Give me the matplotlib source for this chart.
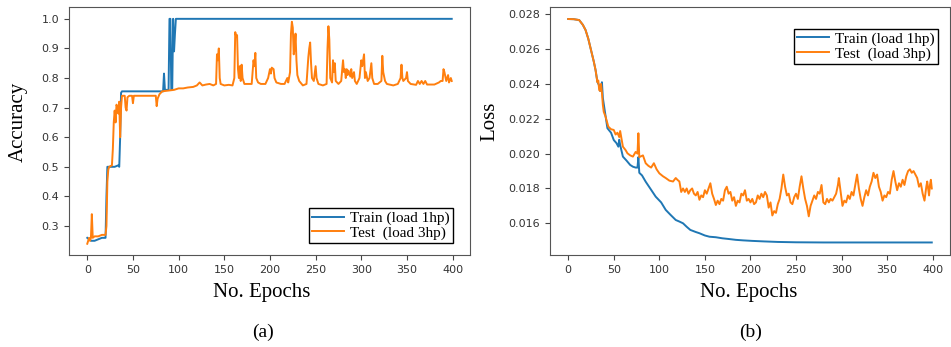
import matplotlib.pyplot as plt

# Accuracy, train (load 1hp)
acc_train_ep = [0, 2, 4, 8, 12, 16, 20, 21, 22, 30, 34, 35, 36, 37, 38, 60, 83, 84, 85,
                89, 90, 91, 92, 93, 94, 95, 96, 97, 399]
acc_train = [0.26, 0.255, 0.25, 0.25, 0.255, 0.26, 0.26, 0.40, 0.50, 0.50, 0.505, 0.50, 0.60,
             0.75, 0.755, 0.755, 0.755, 0.815, 0.76, 0.76, 1.0, 1.0, 0.76, 0.76, 1.0, 0.89,
             0.95, 1.0, 1.0]

# Accuracy, test (load 3hp)
acc_test_ep = [0, 1, 2, 3, 4, 5, 6, 8, 12, 16, 20, 21, 22, 23, 24, 27, 28, 29, 30, 31, 32, 33,
               34, 35, 36, 37, 38, 41, 42, 43, 44, 46, 49, 50, 51, 60, 70, 75, 76, 77, 79, 82,
               90, 95, 100, 105, 110, 116, 120, 123, 126, 130, 134, 138, 141, 142, 143, 144,
               145, 146, 150, 155, 159, 161, 162, 163, 164, 165, 166, 167, 168, 169, 170, 172,
               176, 180, 182, 183, 184, 185, 187, 190, 195, 198, 200, 201, 202, 204, 205, 207,
               212, 216, 219, 220, 222, 223, 224, 225, 226, 227, 228, 229, 230, 232, 236, 240,
               242, 243, 244, 245, 246, 248, 250, 251, 253, 258, 262, 263, 264, 265, 266, 268,
               269, 270, 271, 272, 275, 278, 280, 281, 282, 283, 284, 285, 286, 288, 289, 290,
               292, 293, 295, 298, 300, 301, 303, 304, 305, 307, 309, 311, 312, 314, 318, 322,
               323, 324, 326, 328, 335, 340, 343, 344, 345, 346, 349, 350, 351, 354, 360, 362,
               364, 366, 368, 370, 372, 380, 385, 387, 389, 390, 391, 393, 394, 395, 396, 398,
               399]
acc_test = [0.24, 0.25, 0.26, 0.25, 0.26, 0.34, 0.26, 0.265, 0.265, 0.27, 0.27, 0.30, 0.45,
            0.49, 0.50, 0.505, 0.56, 0.65, 0.69, 0.65, 0.71, 0.70, 0.68, 0.72, 0.60, 0.70,
            0.74, 0.74, 0.70, 0.69, 0.735, 0.74, 0.74, 0.715, 0.74, 0.74, 0.74, 0.74, 0.705,
            0.73, 0.745, 0.755, 0.758, 0.76, 0.765, 0.765, 0.768, 0.77, 0.775, 0.785, 0.775,
            0.778, 0.78, 0.775, 0.78, 0.88, 0.86, 0.90, 0.80, 0.78, 0.775, 0.777, 0.775, 0.80,
            0.955, 0.94, 0.945, 0.83, 0.80, 0.84, 0.79, 0.845, 0.80, 0.78, 0.78, 0.78, 0.86,
            0.84, 0.885, 0.80, 0.785, 0.78, 0.78, 0.80, 0.83, 0.815, 0.835, 0.83, 0.80, 0.785,
            0.78, 0.78, 0.80, 0.785, 0.82, 0.95, 0.99, 0.97, 0.88, 0.90, 0.95, 0.86, 0.81,
            0.79, 0.775, 0.78, 0.87, 0.90, 0.92, 0.85, 0.80, 0.79, 0.84, 0.80, 0.78, 0.775,
            0.78, 0.90, 0.975, 0.93, 0.80, 0.785, 0.86, 0.82, 0.85, 0.79, 0.78, 0.79, 0.86,
            0.82, 0.83, 0.80, 0.83, 0.81, 0.825, 0.805, 0.83, 0.80, 0.82, 0.79, 0.78, 0.80,
            0.86, 0.84, 0.88, 0.80, 0.82, 0.79, 0.80, 0.85, 0.80, 0.78, 0.78, 0.79, 0.875,
            0.82, 0.79, 0.78, 0.775, 0.78, 0.80, 0.845, 0.80, 0.79, 0.80, 0.82, 0.79, 0.78,
            0.777, 0.79, 0.78, 0.79, 0.78, 0.79, 0.778, 0.778, 0.785, 0.79, 0.79, 0.83, 0.82,
            0.79, 0.80, 0.81, 0.785, 0.80, 0.79]

# Loss, train (load 1hp)
loss_train_ep = [0, 6, 12, 16, 19, 22, 25, 28, 30, 32, 34, 35, 36, 37, 38, 40, 43, 47, 50,
                 53, 55, 56, 57, 60, 64, 68, 71, 74, 76, 77, 78, 81, 85, 90, 96, 102, 107, 112,
                 118, 122, 126, 130, 134, 140, 144, 150, 155, 162, 169, 176, 184, 192, 202,
                 215, 230, 250, 280, 320, 360, 399]
loss_train = [0.02773, 0.02772, 0.02767, 0.0274, 0.0271, 0.0266, 0.02595, 0.0253, 0.0248,
              0.02413, 0.0239, 0.0236, 0.0238, 0.0241, 0.0232, 0.0225, 0.02146, 0.0212,
              0.02078, 0.0206, 0.0204, 0.0208, 0.0205, 0.01983, 0.0196, 0.01935, 0.01925,
              0.0192, 0.0192, 0.0198, 0.0189, 0.01875, 0.01839, 0.0180, 0.01753, 0.0172,
              0.01677, 0.0165, 0.01619, 0.0161, 0.0160, 0.0158, 0.01562, 0.0155, 0.01543,
              0.0153, 0.01523, 0.0152, 0.01514, 0.0151, 0.01505, 0.01502, 0.01499, 0.01496,
              0.01493, 0.01491, 0.0149, 0.0149, 0.0149, 0.0149]

# Loss, test (load 3hp)
loss_test_ep = [0, 6, 12, 16, 19, 22, 25, 28, 30, 32, 33, 34, 35, 36, 37, 38, 39, 41, 44, 47,
                50, 52, 54, 56, 57, 60, 63, 65, 68, 71, 74, 76, 77, 78, 80, 82, 85, 88, 91,
                94, 97, 100, 104, 107, 111, 115, 118,
                120, 122, 124, 126, 128, 130, 132, 134, 136, 138, 140, 142, 144, 146, 148, 150,
                152, 154, 156, 158, 160, 162, 164, 166, 168, 170, 172, 174, 176, 178, 180, 182,
                184, 186, 188, 190, 192, 194, 196, 198, 200, 202, 204, 206, 208, 210, 212, 214,
                216, 218, 220, 222, 224, 226, 228, 230, 232, 234, 236, 238, 240, 242, 244, 246,
                248, 250, 252, 254, 256, 258, 260, 262, 264, 266, 268, 270, 272, 274, 276, 278,
                280, 282, 284, 286, 288, 290, 292, 294, 296, 297, 299, 301, 303, 305, 307, 309,
                311, 313, 315, 317, 319, 321, 323, 325, 327, 329, 331, 333, 335, 337, 339, 341,
                343, 345, 347, 349, 351, 353, 355, 357, 359, 361, 363, 365, 367, 369, 371, 373,
                375, 377, 379, 381, 383, 385, 387, 389, 391, 393, 394, 396, 397, 398, 399]
loss_test = [0.02773, 0.02772, 0.02767, 0.0274, 0.0271, 0.0266, 0.02595, 0.0253, 0.0248,
             0.0241, 0.0242, 0.02365, 0.0236, 0.0240, 0.0235, 0.0228, 0.0224, 0.02212,
             0.02155, 0.0214, 0.02136, 0.0211, 0.0212, 0.02095, 0.0213, 0.0204, 0.0202,
             0.02002, 0.0199, 0.01983, 0.0201, 0.0200, 0.02117, 0.0198, 0.01985, 0.0199,
             0.01945, 0.0193, 0.0192, 0.01945, 0.0191, 0.01887, 0.0187, 0.0186, 0.01845,
             0.0184, 0.0186,
             0.01849, 0.0184, 0.0178, 0.0180, 0.0178, 0.0180, 0.0177, 0.0179, 0.0180, 0.0177,
             0.0176, 0.0178, 0.01735, 0.0176, 0.0175, 0.0179, 0.0177, 0.0180, 0.0183, 0.0177,
             0.0174, 0.01705, 0.0173, 0.0171, 0.0174, 0.0173, 0.0179, 0.0181, 0.0177, 0.0178,
             0.0173, 0.0175, 0.0170, 0.0173, 0.0172, 0.0177, 0.0176, 0.0179, 0.0173, 0.0174,
             0.0172, 0.0174, 0.0171, 0.0172, 0.0176, 0.0174, 0.0177, 0.0175, 0.0178, 0.0176,
             0.0169, 0.0172, 0.01645, 0.0167, 0.0166, 0.0171, 0.0174, 0.0180, 0.0188, 0.0181,
             0.0176, 0.0177, 0.0172, 0.0171, 0.0175, 0.0177, 0.0174, 0.0181, 0.0187, 0.0180,
             0.0174, 0.0170, 0.0164, 0.0170, 0.0173, 0.0176, 0.0174, 0.0178, 0.0177, 0.0182,
             0.0172, 0.0171, 0.0174, 0.0172, 0.0174, 0.0173, 0.0175, 0.0177, 0.0182, 0.0186,
             0.0178, 0.0170, 0.0173, 0.0172, 0.0176, 0.0174, 0.0178, 0.0176, 0.0182, 0.0188,
             0.0180, 0.0174, 0.0170, 0.0175, 0.0179, 0.0176, 0.0181, 0.0184, 0.0189, 0.0186,
             0.0188, 0.0181, 0.0178, 0.0173, 0.0176, 0.0175, 0.0178, 0.0177, 0.0185, 0.0190,
             0.0184, 0.0179, 0.0183, 0.0181, 0.0185, 0.0182, 0.0187, 0.0190, 0.0191, 0.0189,
             0.0190, 0.0188, 0.0186, 0.0181, 0.0183, 0.0177, 0.0173, 0.0181, 0.0184, 0.0176,
             0.0182, 0.0185, 0.0180]

labels = ['Train (load 1hp)', 'Test  (load 3hp)']
blue, orange = '#1f77b4', '#ff7f0e'
serif = 'Liberation Serif'

fig = plt.figure(figsize=(9.51, 3.47), dpi=100)
ax1 = fig.add_axes([69 / 951, 1 - 255 / 347, 401 / 951, 248 / 347])
ax2 = fig.add_axes([550 / 951, 1 - 255 / 347, 400 / 951, 248 / 347])

ax1.plot(acc_train_ep, acc_train, color=blue, lw=1.4, label=labels[0])
ax1.plot(acc_test_ep, acc_test, color=orange, lw=1.4, label=labels[1])
ax2.plot(loss_train_ep, loss_train, color=blue, lw=1.4, label=labels[0])
ax2.plot(loss_test_ep, loss_test, color=orange, lw=1.4, label=labels[1])

ax1.set_xlim(-20, 419)
ax1.set_ylim(0.202, 1.04)
ax1.set_yticks([0.3, 0.4, 0.5, 0.6, 0.7, 0.8, 0.9, 1.0])
ax2.set_xlim(-20, 419)
ax2.set_ylim(0.01418, 0.02842)
ax2.set_yticks([0.016, 0.018, 0.020, 0.022, 0.024, 0.026, 0.028])
ax2.yaxis.set_major_formatter(plt.FormatStrFormatter('%.3f'))

for ax in (ax1, ax2):
    ax.set_xticks(range(0, 401, 50))
    ax.tick_params(labelsize=8, colors='#444444', labelcolor='#333333')
    for s in ax.spines.values():
        s.set_color('#555555')

# labels and captions
fig.text(18 / 951, 1 - 122 / 347, 'Accuracy', rotation=90, ha='center', va='center',
         family=serif, fontsize=15)
fig.text(490 / 951, 1 - 121 / 347, 'Loss', rotation=90, ha='center', va='center',
         family=serif, fontsize=15)
fig.text(262 / 951, 1 - 292 / 347, 'No. Epochs', ha='center', va='center', family=serif, fontsize=15)
fig.text(749 / 951, 1 - 292 / 347, 'No. Epochs', ha='center', va='center', family=serif, fontsize=15)
fig.text(263 / 951, 1 - 332 / 347, '(a)', ha='center', va='center', family=serif, fontsize=14)
fig.text(751 / 951, 1 - 332 / 347, '(b)', ha='center', va='center', family=serif, fontsize=14)

leg_kw = dict(prop={'family': serif, 'size': 11}, fancybox=False, edgecolor='black',
              framealpha=1, borderaxespad=0, labelspacing=0.05, borderpad=0.2,
              handletextpad=0.4, handlelength=2.1)
l1 = ax1.legend(loc='lower right', bbox_to_anchor=(453 / 951, 1 - 243 / 347),
                bbox_transform=fig.transFigure, **leg_kw)
l2 = ax2.legend(loc='upper right', bbox_to_anchor=(938 / 951, 1 - 29 / 347),
                bbox_transform=fig.transFigure, **leg_kw)
for l in (l1, l2):
    l.get_frame().set_linewidth(1.0)

fig.savefig('out.png', dpi=100)
